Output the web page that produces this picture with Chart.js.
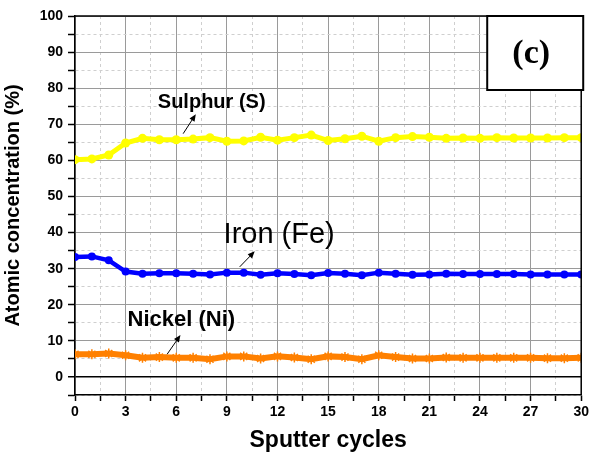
<!DOCTYPE html>
<html>
<head>
<meta charset="utf-8">
<script src="https://cdn.jsdelivr.net/npm/chart.js@4/dist/chart.umd.min.js"></script>
<style>
  html, body { margin: 0; padding: 0; background: #fff; }
</style>
</head>
<body>
<canvas id="my-chart" width="592" height="459"></canvas>
<script>
const cycles = [0,1,2,3,4,5,6,7,8,9,10,11,12,13,14,15,16,17,18,19,20,21,22,23,24,25,26,27,28,29,30];
const sulphur = [60.2,60.4,61.5,64.8,66.1,65.7,65.7,65.9,66.3,65.3,65.4,66.4,65.6,66.3,67.0,65.5,66.0,66.7,65.3,66.3,66.6,66.4,66.1,66.2,66.1,66.3,66.2,66.2,66.2,66.3,66.3];
const iron = [33.2,33.4,32.3,29.2,28.6,28.7,28.7,28.6,28.4,28.9,28.9,28.3,28.7,28.5,28.2,28.8,28.6,28.2,28.9,28.6,28.3,28.4,28.6,28.5,28.5,28.5,28.5,28.4,28.4,28.4,28.4];
const nickel = [6.3,6.3,6.5,6.0,5.3,5.5,5.3,5.3,4.9,5.7,5.7,5.1,5.7,5.4,4.9,5.7,5.5,4.9,6.0,5.5,5.1,5.1,5.4,5.3,5.3,5.3,5.3,5.3,5.2,5.2,5.3];

// series names placed on the plot, with arrow start/end in data units
const labels = [
  { text: 'Sulphur (S)', x: 8.1, y: 74.4, font: 'bold 20px Arial', arrow: [6.41, 67.4, 7.16, 72.8] },
  { text: 'Iron (Fe)', x: 12.1, y: 37.0, font: '29px Arial', arrow: [9.76, 30.5, 10.65, 34.8] },
  { text: 'Nickel (Ni)', x: 6.3, y: 14.0, font: 'bold 22px Arial', arrow: [5.46, 6.3, 6.25, 11.6] }
];
const panelTag = '(c)';

const ctx = document.querySelector('#my-chart');

const toPoints = arr => cycles.map((c, i) => ({ x: c, y: arr[i] }));

const minorDash = c => (c.tick && Math.abs(c.tick.value % (c.scale.axis === 'x' ? 3 : 10)) > 1e-9) ? [3, 3] : [];

function drawArrow(g, x1, y1, x2, y2) {
  const ang = Math.atan2(y2 - y1, x2 - x1);
  g.save();
  g.strokeStyle = '#000';
  g.fillStyle = '#000';
  g.lineWidth = 1;
  g.beginPath();
  g.moveTo(x1, y1);
  g.lineTo(x2 - 4 * Math.cos(ang), y2 - 4 * Math.sin(ang));
  g.stroke();
  g.translate(x2, y2);
  g.rotate(ang);
  g.beginPath();
  g.moveTo(0, 0);
  g.lineTo(-7, -3);
  g.lineTo(-7, 3);
  g.closePath();
  g.fill();
  g.restore();
}

const annotations = {
  id: 'annotations',
  afterDatasetsDraw(chart) {
    const g = chart.ctx;
    const { left, top, right, bottom } = chart.chartArea;
    const xs = chart.scales.x, ys = chart.scales.y;

    // close the frame on top and right
    g.save();
    g.strokeStyle = '#000';
    g.lineWidth = 1.5;
    g.beginPath();
    g.moveTo(left, top);
    g.lineTo(right, top);
    g.lineTo(right, bottom);
    g.stroke();
    g.restore();

    labels.forEach(l => {
      g.save();
      g.font = l.font;
      g.fillStyle = '#000';
      g.textAlign = 'center';
      g.textBaseline = 'alphabetic';
      g.fillText(l.text, xs.getPixelForValue(l.x), ys.getPixelForValue(l.y));
      g.restore();
      const a = l.arrow;
      drawArrow(g, xs.getPixelForValue(a[0]), ys.getPixelForValue(a[1]),
                   xs.getPixelForValue(a[2]), ys.getPixelForValue(a[3]));
    });

    // panel tag box in the top right corner
    g.save();
    g.fillStyle = '#fff';
    g.strokeStyle = '#000';
    g.lineWidth = 2;
    g.fillRect(right - 94, top, 96, 74);
    g.strokeRect(right - 94, top, 96, 74);
    g.fillStyle = '#000';
    g.font = 'bold 34px "Liberation Serif", "Times New Roman", serif';
    g.textAlign = 'center';
    g.textBaseline = 'middle';
    g.fillText(panelTag, right - 50, top + 38);
    g.restore();
  }
};

new Chart(ctx, {
  type: 'line',
  data: {
    datasets: [{
      label: 'Sulphur (S)',
      data: toPoints(sulphur),
      borderColor: '#ffff00',
      backgroundColor: '#ffff00',
      borderWidth: 5,
      pointRadius: 4.5,
      pointBorderWidth: 0,
      clip: 0
    }, {
      label: 'Iron (Fe)',
      data: toPoints(iron),
      borderColor: '#0000ff',
      backgroundColor: '#0000ff',
      borderWidth: 4.5,
      pointRadius: 4,
      pointBorderWidth: 0,
      clip: 0
    }, {
      label: 'Nickel (Ni)',
      data: toPoints(nickel),
      borderColor: '#ff8000',
      backgroundColor: '#ff8000',
      borderWidth: 6,
      pointStyle: 'star',
      pointRadius: 5,
      pointBorderWidth: 1.5,
      clip: 0
    }]
  },
  options: {
    responsive: false,
    animation: false,
    layout: { padding: { top: 16, right: 10, left: 0, bottom: 0 } },
    plugins: {
      legend: { display: false },
      tooltip: { enabled: false }
    },
    scales: {
      x: {
        type: 'linear',
        min: 0,
        max: 30,
        afterFit: s => { s.height = 64; },
        ticks: {
          stepSize: 1.5,
          autoSkip: false,
          maxRotation: 0,
          padding: 3,
          color: '#000',
          font: { family: 'Arial', size: 14, weight: 'bold' },
          callback: v => (v % 3 === 0 ? String(v) : '')
        },
        grid: {
          color: c => (c.tick && c.tick.value % 3 === 0 ? '#9a9a9a' : '#cfcfcf'),
          lineWidth: 1,
          tickLength: 6,
          tickColor: '#000',
          tickWidth: 1.5
        },
        border: { color: '#000', width: 1.5, dash: minorDash },
        title: {
          display: true,
          text: 'Sputter cycles',
          color: '#000',
          font: { family: 'Arial', size: 23, weight: 'bold' },
          padding: { top: 0, bottom: 5 }
        }
      },
      y: {
        min: -5,
        max: 100,
        afterFit: s => { s.width = 75; },
        ticks: {
          stepSize: 5,
          autoSkip: false,
          padding: 5,
          color: '#000',
          font: { family: 'Arial', size: 14, weight: 'bold' },
          callback: v => (v >= 0 && v % 10 === 0 ? String(v) : '')
        },
        grid: {
          color: c => {
            if (!c.tick) return '#cfcfcf';
            if (c.tick.value === 0) return '#000';
            return c.tick.value % 10 === 0 ? '#9a9a9a' : '#cfcfcf';
          },
          lineWidth: c => (c.tick && c.tick.value === 0 ? 1.5 : 1),
          tickLength: 7,
          tickColor: '#000',
          tickWidth: 1.5
        },
        border: { color: '#000', width: 1.5, dash: minorDash },
        title: {
          display: true,
          text: 'Atomic concentration (%)',
          color: '#000',
          font: { family: 'Arial', size: 20, weight: 'bold' },
          padding: { top: 1, bottom: 0 }
        }
      }
    }
  },
  plugins: [annotations]
});
</script>
</body>
</html>
